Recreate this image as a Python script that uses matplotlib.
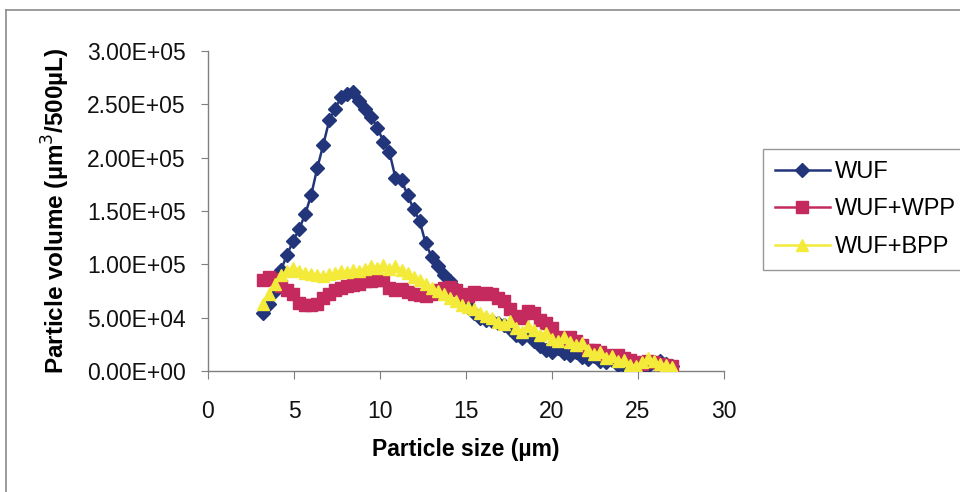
import matplotlib
matplotlib.use("Agg")
import matplotlib.pyplot as plt
from matplotlib.lines import Line2D
from matplotlib.ticker import FuncFormatter

plt.rcParams['font.family'] = ['Liberation Sans', 'DejaVu Sans']

# Particle size bins (µm)
size_um = [3.2, 3.55, 3.9, 4.25, 4.6, 4.95, 5.3, 5.65, 6.0, 6.35, 6.7, 7.05, 7.4, 7.75,
           8.1, 8.45, 8.8, 9.15, 9.5, 9.85, 10.2, 10.55, 10.9, 11.25, 11.6, 11.95, 12.3,
           12.65, 13.0, 13.35, 13.7, 14.05, 14.4, 14.75, 15.1, 15.45, 15.8, 16.15, 16.5,
           16.85, 17.2, 17.55, 17.9, 18.25, 18.6, 18.95, 19.3, 19.65, 20.0, 20.35, 20.7,
           21.05, 21.4, 21.75, 22.1, 22.45, 22.8, 23.15, 23.5, 23.85, 24.2, 24.55, 24.9,
           25.25, 25.6, 25.95, 26.3, 26.65, 27.0]

# Particle volume (µm³/500µL), thousands
wuf = [54, 63, 75, 95, 109, 122, 133, 147, 165, 190, 212, 235, 246, 257, 260, 262, 253,
       246, 238, 228, 215, 205, 181, 179, 165, 152, 141, 120, 107, 98, 90, 84, 77, 70,
       62, 54, 50, 48, 47, 45, 43, 39, 34, 31, 36, 28, 23, 20, 18, 22, 17, 15, 18, 13,
       11, 14, 9, 8, 10, 6, 5, 7, 4, 3, 5, 8, 9, 7, 5]
wuf_wpp = [85, 88, 86, 80, 76, 72, 64, 62, 62, 63, 68, 72, 76, 78, 80, 81, 82, 84, 84,
           85, 85, 78, 76, 77, 74, 72, 71, 70, 72, 76, 78, 79, 76, 72, 70, 74, 72, 73, 72,
           68, 66, 58, 52, 50, 56, 54, 48, 45, 40, 32, 30, 32, 28, 24, 20, 20, 18, 15, 14,
           15, 12, 10, 8, 7, 9, 8, 7, 6, 5]
wuf_bpp = [63, 72, 82, 90, 94, 97, 94, 92, 91, 90, 89, 91, 92, 94, 93, 95, 94, 96, 98,
           97, 99, 96, 98, 95, 92, 88, 85, 82, 78, 75, 72, 68, 66, 62, 60, 58, 54, 52, 50,
           46, 44, 47, 40, 37, 42, 38, 34, 36, 30, 28, 32, 27, 24, 26, 20, 16, 18, 12, 14,
           9, 10, 6, 5, 8, 12, 9, 7, 6, 4]

series_names = ["WUF", "WUF+WPP", "WUF+BPP"]
x_ticks = [0, 5, 10, 15, 20, 25, 30]
y_ticks = [0, 50000, 100000, 150000, 200000, 250000, 300000]

fig = plt.figure(figsize=(9.6, 4.92), dpi=100)
ax = fig.add_axes([208 / 960, 1 - 371 / 492, (724 - 208) / 960, (371 - 51) / 492])

def k(vals):
    return [v * 1000 for v in vals]

ax.plot(size_um, k(wuf), color="#22357a", lw=1.8, marker="D", ms=7,
        mec="#22357a", mfc="#22357a", label=series_names[0], zorder=3)
ax.plot(size_um, k(wuf_wpp), color="#c42a5e", lw=1.8, marker="s", ms=8,
        mec="#c42a5e", mfc="#c42a5e", label=series_names[1], zorder=4)
ax.plot(size_um, k(wuf_bpp), color="#f4ea3a", lw=1.8, marker="^", ms=9,
        mec="#f4ea3a", mfc="#f4ea3a", label=series_names[2], zorder=5)

ax.set_xlim(0, 30)
ax.set_ylim(0, 300000)
ax.set_xticks(x_ticks)
ax.set_yticks(y_ticks)
ax.yaxis.set_major_formatter(FuncFormatter(lambda v, p: f"{v:.2E}"))

for s in ["top", "right"]:
    ax.spines[s].set_visible(False)
for s in ["left", "bottom"]:
    ax.spines[s].set_color("#7f7f7f")
    ax.spines[s].set_linewidth(1.0)

ax.tick_params(axis="y", direction="out", length=5, color="#7f7f7f", pad=11,
               labelsize=16.5, labelcolor="#111111")
ax.tick_params(axis="x", direction="out", length=6, color="#7f7f7f", pad=15,
               labelsize=16.5, labelcolor="#111111")

ax.set_xlabel("Particle size (µm)", fontsize=16.5, fontweight="bold", labelpad=11)
ax.set_ylabel("Particle volume (µm$^3$/500µL)", fontsize=17.5, fontweight="bold")
ax.yaxis.set_label_coords(-136 / 516, 0.5)

leg = ax.legend(loc="upper left", bbox_to_anchor=(763 / 960, 1 - 149 / 492),
                bbox_transform=fig.transFigure, fontsize=17, frameon=True,
                fancybox=False, borderpad=0.5, handlelength=2.33, handletextpad=0.21,
                labelspacing=0.66, borderaxespad=0)
leg.get_frame().set_edgecolor("#7f7f7f")
leg.get_frame().set_linewidth(1.0)

# Outer chart-area border
fig.add_artist(Line2D([6 / 960, 6 / 960], [0, 1 - 10 / 492], transform=fig.transFigure,
                      color="#8a8a8a", lw=1.2))
fig.add_artist(Line2D([6 / 960, 1], [1 - 10 / 492, 1 - 10 / 492], transform=fig.transFigure,
                      color="#8a8a8a", lw=1.2))

fig.savefig("out.png", dpi=100)
